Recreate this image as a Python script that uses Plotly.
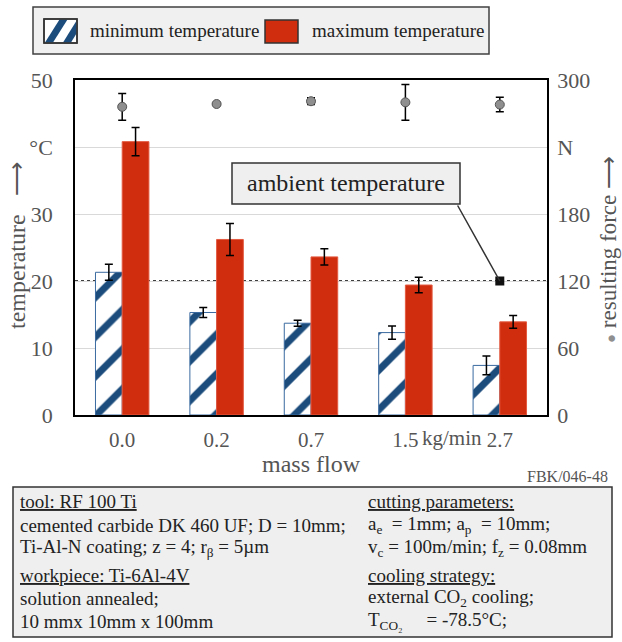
import plotly.graph_objects as go

# ---- data ----
mass_flow = ["0.0", "0.2", "0.7", "1.5", "2.7"]
min_temp = [21.3, 15.3, 13.7, 12.3, 7.4]
min_err = [1.2, 0.75, 0.45, 1.0, 1.4]
max_temp = [40.8, 26.2, 23.6, 19.4, 13.9]
max_err = [2.1, 2.4, 1.2, 1.15, 0.95]
force = [276, 278.5, 281, 280, 278]
force_err = [12, 1, 3, 16, 6.5]
ambient_temp = 20
ambient_marker_cat = "2.7"

temp_ticks = [0, 10, 20, 30, 40, 50]
temp_ticktext = ["0", "10", "20", "30", "°C", "50"]
force_ticks = [0, 60, 120, 180, 240, 300]
force_ticktext = ["0", "60", "120", "180", "N", "300"]

# ---- style ----
W, H = 622, 642
ML, MR, MT, MB = 75, 75, 80, 227
PW, PH = W - ML - MR, H - MT - MB
SERIF = "Liberation Serif, Times New Roman, serif"
RED = "#d02c0e"
BLUE = "#1b4c7c"
GRAY_TXT = "#555555"
NB = "\u00a0"


def px(x):
    return (x - ML) / PW


def py(y):
    return (H - MB - y) / PH


fig = go.Figure()

fig.add_trace(go.Bar(
    x=mass_flow, y=min_temp, name="minimum temperature",
    marker=dict(color="white", line=dict(color="#3a6aa0", width=1),
                pattern=dict(shape="/", fgcolor=BLUE, bgcolor="white",
                             size=28, solidity=0.25, fillmode="replace")),
    error_y=dict(type="data", array=min_err, color="black", thickness=1.5, width=4),
    showlegend=False,
))
fig.add_trace(go.Bar(
    x=mass_flow, y=max_temp, name="maximum temperature",
    marker=dict(color=RED, line=dict(color="#e35a40", width=1)),
    error_y=dict(type="data", array=max_err, color="black", thickness=1.5, width=4),
    showlegend=False,
))
fig.add_trace(go.Scatter(
    x=[ambient_marker_cat], y=[ambient_temp], mode="markers",
    marker=dict(symbol="square", size=9, color="#111111"),
    showlegend=False, hoverinfo="skip",
))
fig.add_trace(go.Scatter(
    x=mass_flow, y=force, yaxis="y2", mode="markers",
    marker=dict(symbol="circle", size=9, color="#8f8f8f", line=dict(color="#555555", width=1)),
    error_y=dict(type="data", array=force_err, color="black", thickness=1.5, width=4),
    showlegend=False,
))

shapes = []
# ambient temperature line
shapes.append(dict(type="line", xref="paper", yref="y", x0=0, x1=1, y0=ambient_temp, y1=ambient_temp,
                   line=dict(color="black", width=1.5, dash="dot"), layer="below"))
# legend box
shapes.append(dict(type="rect", xref="paper", yref="paper", x0=px(33), x1=px(489), y0=py(54), y1=py(7),
                   fillcolor="#f0f0f0", line=dict(color="#404040", width=1.5)))
shapes.append(dict(type="rect", xref="paper", yref="paper", x0=px(44), x1=px(77), y0=py(43), y1=py(19),
                   fillcolor="white", line=dict(color="#333333", width=1.5)))


def poly(pts):
    d = "M " + " L ".join(f"{px(a):.5f},{py(b):.5f}" for a, b in pts) + " Z"
    return dict(type="path", xref="paper", yref="paper", path=d, fillcolor=BLUE, line=dict(width=0))


shapes.append(poly([(45, 42.5), (53, 42.5), (67.5, 19.5), (59.5, 19.5)]))
shapes.append(poly([(63, 42.5), (71, 42.5), (76.5, 33.6), (76.5, 20.8)]))
shapes.append(dict(type="rect", xref="paper", yref="paper", x0=px(44), x1=px(77), y0=py(43), y1=py(19),
                   fillcolor="rgba(0,0,0,0)", line=dict(color="#333333", width=1.5)))
shapes.append(dict(type="rect", xref="paper", yref="paper", x0=px(265), x1=px(298), y0=py(43), y1=py(20),
                   fillcolor=RED, line=dict(color="#333333", width=1.5)))
# info box
shapes.append(dict(type="rect", xref="paper", yref="paper", x0=px(13), x1=px(612), y0=py(637), y1=py(487),
                   fillcolor="#efefef", line=dict(color="#333333", width=1.5)))
# ambient temperature callout box
shapes.append(dict(type="rect", xref="paper", yref="paper", x0=px(232), x1=px(460), y0=py(204), y1=py(163),
                   fillcolor="#efefef", line=dict(color="#333333", width=1.5)))

ann = []


def text(x, y, s, size=19, color="#222222", xanchor="left", angle=0):
    ann.append(dict(xref="paper", yref="paper", x=px(x), y=py(y), text=s, showarrow=False,
                    xanchor=xanchor, yanchor="middle", textangle=angle,
                    font=dict(family=SERIF, size=size, color=color)))


text(88, 31, "minimum temperature")
text(310, 31, "maximum temperature")

# axis titles and unit
text(17, 246, "temperature" + NB * 3 + "⟶", size=24, color=GRAY_TXT, xanchor="center", angle=-90)
text(608, 250, "<span style='font-size:15px;color:#8f8f8f'>●</span>" + NB + "resulting force" + NB + "⟶",
     size=23, color=GRAY_TXT, xanchor="center", angle=-90)
text(311, 464, "mass flow", size=24, color=GRAY_TXT, xanchor="center")
text(452, 438, "kg/min", size=21, color=GRAY_TXT, xanchor="center")
text(610, 476, "FBK/046-48", size=16, color=GRAY_TXT, xanchor="right")
text(346, 183, "ambient temperature", size=24, color="#222222", xanchor="center")

# info box text
left_lines = [
    (502, "<u>tool: RF 100 Ti</u>"),
    (525, "cemented carbide DK 460 UF; D = 10mm;"),
    (548, "Ti-Al-N coating; z = 4; r<sub>β</sub> = 5µm"),
    (575, "<u>workpiece: Ti-6Al-4V</u>"),
    (598, "solution annealed;"),
    (621, "10 mmx 10mm x 100mm"),
]
right_lines = [
    (502, "<u>cutting parameters:</u>"),
    (525, "a<sub>e</sub>  = 1mm; a<sub>p</sub>  = 10mm;"),
    (548, "v<sub>c</sub> = 100m/min; f<sub>z</sub> = 0.08mm"),
    (575, "<u>cooling strategy:</u>"),
    (598, "external CO<sub>2</sub> cooling;"),
    (621, "T<sub>CO₂</sub>     = -78.5°C;"),
]
for y, s in left_lines:
    text(18, y, s, size=19)
for y, s in right_lines:
    text(366, y, s, size=19)

# connector line from callout box to the ambient marker
ann.append(dict(xref="x", yref="y", x=mass_flow.index(ambient_marker_cat), y=ambient_temp, text="",
                showarrow=True, arrowhead=0, arrowwidth=1.5, arrowcolor="#333333",
                ax=-43, ay=-77, standoff=0, startstandoff=0))

fig.update_layout(
    width=W, height=H,
    margin=dict(l=ML, r=MR, t=MT, b=MB, pad=0),
    paper_bgcolor="white", plot_bgcolor="white",
    barmode="group", bargap=0.434, bargroupgap=0,
    font=dict(family=SERIF, size=21, color=GRAY_TXT),
    xaxis=dict(type="category", categoryorder="array", categoryarray=mass_flow,
               showline=True, linecolor="black", linewidth=1.5, mirror=True,
               ticks="", showgrid=False, ticklabelstandoff=5,
               tickfont=dict(family=SERIF, size=21, color=GRAY_TXT)),
    yaxis=dict(range=[0, 50], tickvals=temp_ticks, ticktext=temp_ticktext,
               showline=True, linecolor="black", linewidth=1.5, zeroline=False,
               showgrid=True, gridcolor="#d9d9d9", gridwidth=1, ticks="",
               ticklabelstandoff=16,
               tickfont=dict(family=SERIF, size=22, color=GRAY_TXT)),
    yaxis2=dict(range=[0, 300], tickvals=force_ticks, ticktext=force_ticktext,
                overlaying="y", side="right", showgrid=False, zeroline=False,
                showline=True, linecolor="black", linewidth=1.5, ticks="",
                ticklabelstandoff=4,
                tickfont=dict(family=SERIF, size=22, color=GRAY_TXT)),
    shapes=shapes,
    annotations=ann,
    showlegend=False,
)

fig.write_html("out.html", config={"displayModeBar": False},
               post_script="document.body.style.margin='0';document.body.style.overflow='hidden';")
